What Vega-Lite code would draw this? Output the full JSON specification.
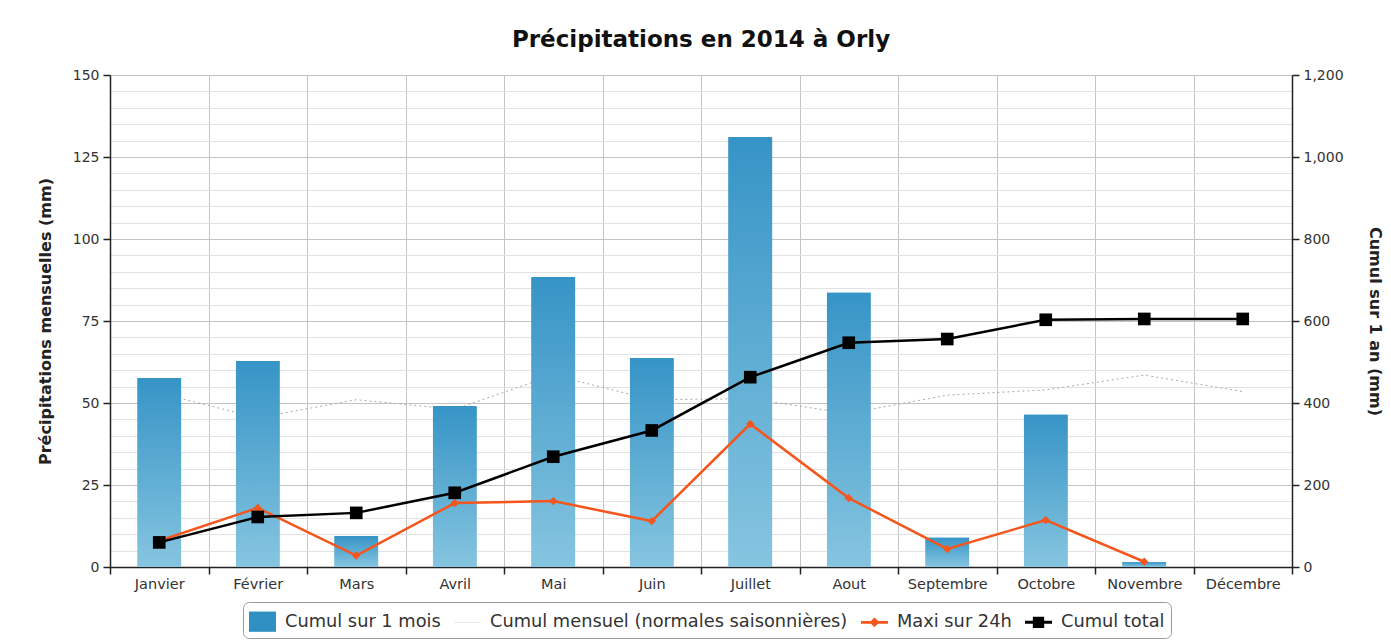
{
  "$schema": "https://vega.github.io/schema/vega-lite/v6.json",
  "width": 1182,
  "height": 492,
  "autosize": "none",
  "padding": {"left": 110, "top": 75, "right": 99, "bottom": 75},
  "background": "#ffffff",
  "title": {"text": "Précipitations en 2014 à Orly", "font": "DejaVu Sans", "fontSize": 23, "fontWeight": "bold", "color": "#111111", "anchor": "middle", "offset": 16},
  "data": {"values": [
    {"mois": "Janvier", "cumul_mois": 57.7, "normale": 53, "maxi24h": 8.0, "cumul_total": 60},
    {"mois": "Février", "cumul_mois": 62.8, "normale": 45.5, "maxi24h": 18.0, "cumul_total": 122},
    {"mois": "Mars", "cumul_mois": 9.5, "normale": 51, "maxi24h": 3.5, "cumul_total": 132},
    {"mois": "Avril", "cumul_mois": 49.1, "normale": 48.1, "maxi24h": 19.5, "cumul_total": 181},
    {"mois": "Mai", "cumul_mois": 88.4, "normale": 58.5, "maxi24h": 20.1, "cumul_total": 269},
    {"mois": "Juin", "cumul_mois": 63.7, "normale": 51, "maxi24h": 14.0, "cumul_total": 333},
    {"mois": "Juillet", "cumul_mois": 131.1, "normale": 51.3, "maxi24h": 43.6, "cumul_total": 463},
    {"mois": "Aout", "cumul_mois": 83.8, "normale": 46.8, "maxi24h": 21.0, "cumul_total": 547},
    {"mois": "Septembre", "cumul_mois": 9.1, "normale": 52.4, "maxi24h": 5.5, "cumul_total": 556},
    {"mois": "Octobre", "cumul_mois": 46.6, "normale": 54, "maxi24h": 14.3, "cumul_total": 603},
    {"mois": "Novembre", "cumul_mois": 1.6, "normale": 58.5, "maxi24h": 1.6, "cumul_total": 605},
    {"mois": "Décembre", "cumul_mois": 0, "normale": 53.5, "maxi24h": null, "cumul_total": 605}
  ]},
  "encoding": {
    "x": {
      "field": "mois", "type": "nominal", "sort": null,
      "scale": {"paddingInner": 0, "paddingOuter": 0},
      "axis": {"title": null, "labelAngle": 0, "tickBand": "extent", "grid": true, "gridColor": "#c4c4c4", "gridWidth": 1, "labelPadding": 3, "tickSize": 7, "labelFontSize": 14.5}
    }
  },
  "layer": [
    {
      "layer": [
        {
          "mark": {"type": "line", "color": "#aaaaaa", "strokeWidth": 1, "strokeDash": [2, 3]},
          "encoding": {
            "y": {
              "field": "normale", "type": "quantitative",
              "scale": {"domain": [0, 150], "nice": false, "zero": true},
              "title": "Précipitations mensuelles (mm)",
              "axis": {
                "orient": "left",
                "values": [0,5,10,15,20,25,30,35,40,45,50,55,60,65,70,75,80,85,90,95,100,105,110,115,120,125,130,135,140,145,150],
                "labelExpr": "datum.value % 25 === 0 ? datum.label : ''",
                "labelOverlap": false,
                "grid": true,
                "gridColor": {"condition": {"test": "datum.value % 25 === 0", "value": "#c4c4c4"}, "value": "#e2e2e2"},
                "tickOpacity": {"condition": {"test": "datum.value % 25 === 0", "value": 1}, "value": 0},
                "labelPadding": 4,
                "titlePadding": 19
              }
            }
          }
        },
        {
          "mark": {
            "type": "bar",
            "width": {"band": 0.45},
            "fill": {"gradient": "linear", "x1": 0, "y1": 0, "x2": 0, "y2": 1, "stops": [{"offset": 0, "color": "#3694c6"}, {"offset": 1, "color": "#86c5e0"}]},
            "cornerRadiusTopLeft": 1, "cornerRadiusTopRight": 1
          },
          "encoding": {
            "y": {
              "field": "cumul_mois", "type": "quantitative",
              "scale": {"domain": [0, 150], "nice": false, "zero": true},
              "title": "Précipitations mensuelles (mm)",
              "axis": {
                "orient": "left",
                "values": [0,5,10,15,20,25,30,35,40,45,50,55,60,65,70,75,80,85,90,95,100,105,110,115,120,125,130,135,140,145,150],
                "labelExpr": "datum.value % 25 === 0 ? datum.label : ''",
                "labelOverlap": false,
                "grid": true,
                "gridColor": {"condition": {"test": "datum.value % 25 === 0", "value": "#c4c4c4"}, "value": "#e2e2e2"},
                "tickOpacity": {"condition": {"test": "datum.value % 25 === 0", "value": 1}, "value": 0},
                "labelPadding": 4,
                "titlePadding": 19
              }
            }
          }
        },
        {
          "mark": {"type": "point", "filled": true, "opacity": 0},
          "encoding": {
            "y": {
              "field": "cumul_mois", "type": "quantitative",
              "scale": {"domain": [0, 150], "nice": false, "zero": true},
              "title": "Précipitations mensuelles (mm)",
              "axis": {
                "orient": "left",
                "values": [0,5,10,15,20,25,30,35,40,45,50,55,60,65,70,75,80,85,90,95,100,105,110,115,120,125,130,135,140,145,150],
                "labelExpr": "datum.value % 25 === 0 ? datum.label : ''",
                "labelOverlap": false,
                "grid": true,
                "gridColor": {"condition": {"test": "datum.value % 25 === 0", "value": "#c4c4c4"}, "value": "#e2e2e2"},
                "tickOpacity": {"condition": {"test": "datum.value % 25 === 0", "value": 1}, "value": 0},
                "labelPadding": 4,
                "titlePadding": 19
              }
            },
            "color": {
              "datum": "Cumul sur 1 mois",
              "scale": {
                "domain": ["Cumul sur 1 mois", "Cumul mensuel (normales saisonnières)", "Maxi sur 24h", "Cumul total"],
                "range": ["#2f90c3", "#e4e4e4", "#f4561d", "#000000"]
              },
              "legend": {
                "title": null, "orient": "none", "legendX": 133, "legendY": 527,
                "direction": "horizontal", "columns": 4
              }
            },
            "shape": {
              "datum": "Cumul sur 1 mois",
              "scale": {
                "domain": ["Cumul sur 1 mois", "Cumul mensuel (normales saisonnières)", "Maxi sur 24h", "Cumul total"],
                "range": ["M-1,-0.75H1V0.75H-1Z", "M-1,-0.03H1V0.03H-1Z", "M-1,-0.1H1V0.1H-1Z M0,-0.36L0.36,0L0,0.36L-0.36,0Z", "M-1,-0.11H1V0.11H-1Z M-0.42,-0.42H0.42V0.42H-0.42Z"]
              },
              "legend": {
                "title": null, "orient": "none", "legendX": 133, "legendY": 527,
                "direction": "horizontal", "columns": 4
              }
            }
          }
        },
        {
          "mark": {"type": "line", "color": "#f4561d", "strokeWidth": 2.5},
          "encoding": {
            "y": {
              "field": "maxi24h", "type": "quantitative",
              "scale": {"domain": [0, 150], "nice": false, "zero": true},
              "title": "Précipitations mensuelles (mm)",
              "axis": {
                "orient": "left",
                "values": [0,5,10,15,20,25,30,35,40,45,50,55,60,65,70,75,80,85,90,95,100,105,110,115,120,125,130,135,140,145,150],
                "labelExpr": "datum.value % 25 === 0 ? datum.label : ''",
                "labelOverlap": false,
                "grid": true,
                "gridColor": {"condition": {"test": "datum.value % 25 === 0", "value": "#c4c4c4"}, "value": "#e2e2e2"},
                "tickOpacity": {"condition": {"test": "datum.value % 25 === 0", "value": 1}, "value": 0},
                "labelPadding": 4,
                "titlePadding": 19
              }
            }
          }
        },
        {
          "mark": {"type": "point", "shape": "diamond", "filled": true, "size": 70, "color": "#f4561d", "opacity": 1},
          "encoding": {
            "y": {
              "field": "maxi24h", "type": "quantitative",
              "scale": {"domain": [0, 150], "nice": false, "zero": true},
              "title": "Précipitations mensuelles (mm)",
              "axis": {
                "orient": "left",
                "values": [0,5,10,15,20,25,30,35,40,45,50,55,60,65,70,75,80,85,90,95,100,105,110,115,120,125,130,135,140,145,150],
                "labelExpr": "datum.value % 25 === 0 ? datum.label : ''",
                "labelOverlap": false,
                "grid": true,
                "gridColor": {"condition": {"test": "datum.value % 25 === 0", "value": "#c4c4c4"}, "value": "#e2e2e2"},
                "tickOpacity": {"condition": {"test": "datum.value % 25 === 0", "value": 1}, "value": 0},
                "labelPadding": 4,
                "titlePadding": 19
              }
            }
          }
        }
      ]
    },
    {
      "layer": [
        {
          "mark": {"type": "line", "color": "#000000", "strokeWidth": 2.5},
          "encoding": {
            "y": {
              "field": "cumul_total", "type": "quantitative",
              "scale": {"domain": [0, 1200], "nice": false},
              "title": "Cumul sur 1 an (mm)",
              "axis": {"orient": "right", "values": [0, 200, 400, 600, 800, 1000, 1200], "format": ",d", "grid": false, "labelPadding": 4, "titlePadding": 23}
            }
          }
        },
        {
          "mark": {"type": "point", "shape": "square", "filled": true, "size": 160, "color": "#000000", "opacity": 1},
          "encoding": {
            "y": {
              "field": "cumul_total", "type": "quantitative",
              "scale": {"domain": [0, 1200], "nice": false},
              "title": "Cumul sur 1 an (mm)",
              "axis": {"orient": "right", "values": [0, 200, 400, 600, 800, 1000, 1200], "format": ",d", "grid": false, "labelPadding": 4, "titlePadding": 23}
            }
          }
        }
      ]
    }
  ],
  "resolve": {"scale": {"y": "independent"}},
  "config": {
    "view": {"stroke": null},
    "axis": {
      "domainColor": "#222222", "domainWidth": 1.5, "tickColor": "#222222", "tickSize": 7, "tickWidth": 1.5,
      "labelFont": "DejaVu Sans", "labelFontSize": 14, "labelColor": "#333333",
      "titleFont": "DejaVu Sans", "titleFontSize": 16, "titleFontWeight": "bold", "titleColor": "#222222"
    },
    "legend": {
      "labelFont": "DejaVu Sans", "labelFontSize": 17.8, "labelColor": "#333333",
      "symbolSize": 729, "symbolOpacity": 1, "symbolStrokeWidth": 0,
      "padding": 6, "strokeColor": "#999999", "cornerRadius": 6, "fillColor": "#ffffff",
      "columnPadding": 13, "labelOffset": 9, "labelLimit": 600
    }
  }
}
